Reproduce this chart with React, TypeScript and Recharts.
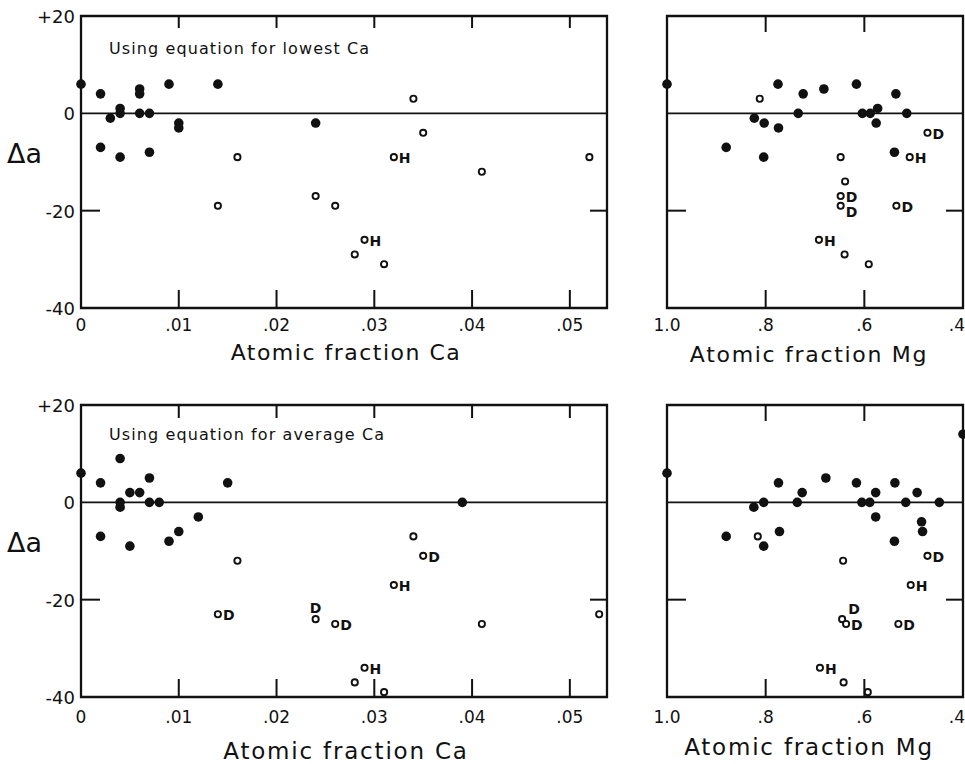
import React from "react";
import { ScatterChart, Scatter, XAxis, YAxis, ReferenceLine, ReferenceArea } from "recharts";

// axis ticks
const caTicks = [0, 0.01, 0.02, 0.03, 0.04, 0.05];
const caTickLabels = ["0", ".01", ".02", ".03", ".04", ".05"];
const mgTicks = [0.4, 0.6, 0.8, 1.0];
const mgTickLabels = [".4", ".6", ".8", "1.0"];
const deltaTicks = [-40, -20, 0, 20];
const deltaTickLabels = ["-40", "-20", "0", "+20"];

// upper pair: equation for lowest Ca
const lowCaFilledX = [0, 0.002, 0.002, 0.003, 0.004, 0.004, 0.004, 0.006, 0.006, 0.006, 0.007, 0.007, 0.009, 0.01, 0.01, 0.014, 0.024];
const lowCaFilledY = [6, 4, -7, -1, 1, 0, -9, 5, 4, 0, 0, -8, 6, -2, -3, 6, -2];
const lowCaOpenX = [0.014, 0.016, 0.024, 0.026, 0.028, 0.029, 0.031, 0.032, 0.034, 0.035, 0.041, 0.052];
const lowCaOpenY = [-19, -9, -17, -19, -29, -26, -31, -9, 3, -4, -12, -9];
const lowCaOpenTag = ["", "", "", "", "", "H", "", "H", "", "", "", ""];

const lowMgFilledX = [1.0, 0.775, 0.724, 0.682, 0.616, 0.536, 0.734, 0.604, 0.588, 0.573, 0.514, 0.823, 0.803, 0.774, 0.576, 0.88, 0.804, 0.539];
const lowMgFilledY = [6, 6, 4, 5, 6, 4, 0, 0, 0, 1, 0, -1, -2, -3, -2, -7, -9, -8];
const lowMgOpenX = [0.812, 0.472, 0.508, 0.648, 0.639, 0.648, 0.648, 0.535, 0.692, 0.64, 0.591];
const lowMgOpenY = [3, -4, -9, -9, -14, -17, -19, -19, -26, -29, -31];
const lowMgOpenTag = ["", "D", "H", "", "", "D", "D", "D", "H", "", ""];

// lower pair: equation for average Ca
const avgCaFilledX = [0, 0.002, 0.002, 0.004, 0.004, 0.004, 0.005, 0.005, 0.006, 0.007, 0.007, 0.008, 0.009, 0.01, 0.012, 0.015, 0.039];
const avgCaFilledY = [6, 4, -7, 9, 0, -1, 2, -9, 2, 5, 0, 0, -8, -6, -3, 4, 0];
const avgCaOpenX = [0.014, 0.016, 0.024, 0.026, 0.028, 0.029, 0.031, 0.032, 0.034, 0.035, 0.041, 0.053];
const avgCaOpenY = [-23, -12, -24, -25, -37, -34, -39, -17, -7, -11, -25, -23];
const avgCaOpenTag = ["D", "", "D", "D", "", "H", "", "H", "", "D", "", ""];

const avgMgFilledX = [1.0, 0.4, 0.774, 0.726, 0.678, 0.616, 0.577, 0.538, 0.493, 0.824, 0.804, 0.736, 0.605, 0.589, 0.516, 0.448, 0.577, 0.484, 0.482, 0.539, 0.88, 0.772, 0.804];
const avgMgFilledY = [6, 14, 4, 2, 5, 4, 2, 4, 2, -1, 0, 0, 0, 0, 0, 0, -3, -4, -6, -8, -7, -6, -9];
const avgMgOpenX = [0.816, 0.643, 0.472, 0.506, 0.645, 0.637, 0.531, 0.69, 0.642, 0.593];
const avgMgOpenY = [-7, -12, -11, -17, -24, -25, -25, -34, -37, -39];
const avgMgOpenTag = ["", "", "D", "H", "D", "D", "D", "H", "", ""];

type Row = { x: number; y: number; tag: string; idx: number };
type Place = "above" | "upright" | "below";

const rows = (xs: number[], ys: number[], tags?: string[]): Row[] =>
  xs.map((x, i) => ({ x, y: ys[i], tag: tags ? tags[i] : "", idx: i }));

const PLOT_H = 292;
const MARGIN_T = 16;
const INK = "#111";

type PanelProps = {
  left: number;
  top: number;
  width: number;
  height: number;
  axisW: number;
  marginR: number;
  xDomain: [number, number];
  xTicks: number[];
  xLabels: string[];
  reversed?: boolean;
  title: string;
  titleSize: number;
  titleSpacing: number;
  titleOffset: number;
  titleDx: number;
  tickDy: number;
  note?: string;
  noteDy?: number;
  showY: boolean;
  topTick: number;
  filled: Row[];
  open: Row[];
  tagPlace?: Record<number, Place>;
};

function Panel(p: PanelProps) {
  const plotW = p.width - p.axisW - p.marginR;
  const near = (a: number, b: number) => Math.abs(a - b) < 1e-9;

  const xTick = (t: any) => {
    const { x, y, payload } = t;
    const i = p.xTicks.findIndex((v) => near(v, payload.value));
    const edge = near(payload.value, p.xDomain[0]) || near(payload.value, p.xDomain[1]);
    // the last label sits on the page edge, keep it inside
    const atPageEdge = p.left + x > 955;
    return (
      <g>
        {!edge && <line x1={x} x2={x} y1={y} y2={y - 18} stroke={INK} strokeWidth={2} />}
        {!edge && (
          <line x1={x} x2={x} y1={y - PLOT_H} y2={y - PLOT_H + p.topTick} stroke={INK} strokeWidth={2} />
        )}
        <text
          x={atPageEdge ? x + 2 : x}
          y={y + p.tickDy}
          textAnchor={atPageEdge ? "end" : "middle"}
          fontSize={17}
          fill={INK}
        >
          {p.xLabels[i]}
        </text>
      </g>
    );
  };

  const yTick = (t: any) => {
    const { x, y, payload } = t;
    const i = deltaTicks.indexOf(payload.value);
    const inner = payload.value === -20;
    return (
      <g>
        {inner && <line x1={x} x2={x + 19} y1={y} y2={y} stroke={INK} strokeWidth={2} />}
        {inner && <line x1={x + plotW} x2={x + plotW - 17} y1={y} y2={y} stroke={INK} strokeWidth={2} />}
        {p.showY && (
          <text x={x - 6} y={y + 7} textAnchor="end" fontSize={18} fill={INK}>
            {deltaTickLabels[i]}
          </text>
        )}
      </g>
    );
  };

  const filledDot = (s: any) => <circle cx={s.cx} cy={s.cy} r={4.8} fill={INK} />;

  const openDot = (s: any) => {
    const row: Row = s.payload;
    const place = p.tagPlace ? p.tagPlace[row.idx] : undefined;
    let tx = s.cx + 5;
    let ty = s.cy + 6;
    let anchor = "start";
    if (place === "above") {
      tx = s.cx;
      ty = s.cy - 6;
      anchor = "middle";
    } else if (place === "upright") {
      tx = s.cx + 6;
      ty = s.cy - 5;
    } else if (place === "below") {
      ty = s.cy + 11;
    }
    return (
      <g>
        <circle cx={s.cx} cy={s.cy} r={3.1} fill="#fff" stroke={INK} strokeWidth={1.9} />
        {row.tag && (
          <text x={tx} y={ty} textAnchor={anchor} fontSize={14} fontWeight="bold" fill={INK}>
            {row.tag}
          </text>
        )}
      </g>
    );
  };

  return (
    <div style={{ position: "absolute", left: p.left, top: p.top }}>
      <ScatterChart
        width={p.width}
        height={p.height}
        margin={{ top: MARGIN_T, right: p.marginR, left: 0, bottom: 0 }}
      >
        <XAxis
          type="number"
          dataKey="x"
          domain={p.xDomain}
          ticks={p.xTicks}
          reversed={p.reversed}
          height={p.height - MARGIN_T - PLOT_H}
          axisLine={false}
          tickLine={false}
          tickSize={0}
          tickMargin={0}
          interval={0}
          tick={xTick}
          label={(lp: any) => (
            <text
              x={lp.viewBox.x + lp.viewBox.width / 2 + p.titleDx}
              y={lp.viewBox.y + lp.viewBox.height - p.titleOffset}
              textAnchor="middle"
              fontSize={p.titleSize}
              letterSpacing={p.titleSpacing}
              fill={INK}
            >
              {p.title}
            </text>
          )}
        />
        <YAxis
          type="number"
          dataKey="y"
          domain={[-40, 20]}
          ticks={deltaTicks}
          width={p.axisW}
          axisLine={false}
          tickLine={false}
          tickSize={0}
          tickMargin={0}
          interval={0}
          tick={yTick}
          label={(lp: any) =>
            p.showY ? (
              <text x={7} y={lp.viewBox.y + 147} fontSize={27} fill={INK}>
                Δa
              </text>
            ) : null
          }
        />
        <ReferenceArea
          x1={p.xDomain[0]}
          x2={p.xDomain[1]}
          y1={-40}
          y2={20}
          fill="none"
          stroke={INK}
          strokeWidth={2.3}
          ifOverflow="visible"
          label={(lp: any) =>
            p.note ? (
              <text
                x={lp.viewBox.x + 28}
                y={lp.viewBox.y + (p.noteDy ?? 37)}
                fontSize={16}
                letterSpacing={1.1}
                fill={INK}
              >
                {p.note}
              </text>
            ) : null
          }
        />
        <ReferenceLine y={0} stroke={INK} strokeWidth={1.8} />
        <Scatter data={p.filled} shape={filledDot} isAnimationActive={false} />
        <Scatter data={p.open} shape={openDot} isAnimationActive={false} />
      </ScatterChart>
    </div>
  );
}

const CA_DOMAIN: [number, number] = [0, 0.0538];
const MG_DOMAIN: [number, number] = [0.4, 1.0];

export default function App() {
  return (
    <div
      style={{
        position: "absolute",
        left: 0,
        top: 0,
        width: 965,
        height: 764,
        background: "#fff",
        overflow: "hidden",
        fontFamily: "'DejaVu Sans', sans-serif",
      }}
    >
      <Panel
        left={0}
        top={0}
        width={620}
        height={372}
        axisW={81}
        marginR={13}
        xDomain={CA_DOMAIN}
        xTicks={caTicks}
        xLabels={caTickLabels}
        title="Atomic fraction Ca"
        titleSize={22}
        titleSpacing={1.5}
        titleOffset={12}
        titleDx={2}
        tickDy={23}
        note="Using equation for lowest Ca"
        noteDy={38}
        showY
        topTick={12}
        filled={rows(lowCaFilledX, lowCaFilledY)}
        open={rows(lowCaOpenX, lowCaOpenY, lowCaOpenTag)}
      />
      <Panel
        left={600}
        top={0}
        width={365}
        height={372}
        axisW={67}
        marginR={2}
        xDomain={MG_DOMAIN}
        xTicks={mgTicks}
        xLabels={mgTickLabels}
        reversed
        title="Atomic fraction Mg"
        titleSize={22}
        titleSpacing={1.7}
        titleOffset={10}
        titleDx={-6}
        tickDy={23}
        showY={false}
        topTick={16}
        filled={rows(lowMgFilledX, lowMgFilledY)}
        open={rows(lowMgOpenX, lowMgOpenY, lowMgOpenTag)}
        tagPlace={{ 6: "below" }}
      />
      <Panel
        left={0}
        top={389}
        width={620}
        height={375}
        axisW={81}
        marginR={13}
        xDomain={CA_DOMAIN}
        xTicks={caTicks}
        xLabels={caTickLabels}
        title="Atomic fraction Ca"
        titleSize={23}
        titleSpacing={1.8}
        titleOffset={5}
        titleDx={2}
        tickDy={26}
        note="Using equation for average Ca"
        noteDy={35}
        showY
        topTick={13}
        filled={rows(avgCaFilledX, avgCaFilledY)}
        open={rows(avgCaOpenX, avgCaOpenY, avgCaOpenTag)}
        tagPlace={{ 2: "above" }}
      />
      <Panel
        left={600}
        top={389}
        width={365}
        height={375}
        axisW={67}
        marginR={2}
        xDomain={MG_DOMAIN}
        xTicks={mgTicks}
        xLabels={mgTickLabels}
        reversed
        title="Atomic fraction Mg"
        titleSize={23}
        titleSpacing={1.8}
        titleOffset={9}
        titleDx={-6}
        tickDy={26}
        showY={false}
        topTick={16}
        filled={rows(avgMgFilledX, avgMgFilledY)}
        open={rows(avgMgOpenX, avgMgOpenY, avgMgOpenTag)}
        tagPlace={{ 4: "upright" }}
      />
    </div>
  );
}
